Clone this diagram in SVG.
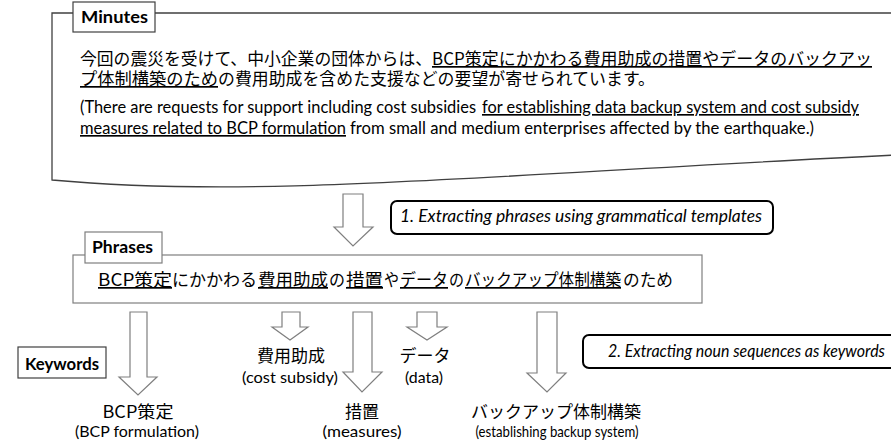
<svg xmlns="http://www.w3.org/2000/svg" width="891" height="445" viewBox="0 0 891 445">
<style>
.jp{font-family:"Noto Sans CJK JP","Noto Sans CJK SC",sans-serif;font-size:17px;fill:#000}
.en{font-family:Lato,"Open Sans",sans-serif;font-size:16.5px;fill:#000}
.kw{font-family:Lato,"Open Sans",sans-serif;font-size:16px;fill:#000}
.hd{font-family:Lato,"Open Sans",sans-serif;font-size:17px;font-weight:bold;fill:#000}
.it{font-family:Lato,"Open Sans",sans-serif;font-size:16.5px;font-style:italic;fill:#000}
.u{text-decoration:underline}
.lbl{fill:#fff;stroke:#404040;stroke-width:1.2}
.step{fill:#fff;stroke:#000;stroke-width:2}
.arr{fill:#fff;stroke:#7f7f7f;stroke-width:1.2}
.mid{text-anchor:middle}
</style>
<rect width="891" height="445" fill="#fff"/>

<g id="minutes">
  <path d="M52,180 V13 H896 V155 C480,175 260,199 52,180 Z" fill="#fff" stroke="#404040" stroke-width="1.3"/>
  <rect class="lbl" x="73" y="2" width="82" height="30"/>
  <text class="hd" x="81" y="23" textLength="67" lengthAdjust="spacingAndGlyphs">Minutes</text>
  <text class="jp" x="80" y="65" textLength="352" lengthAdjust="spacingAndGlyphs">今回の震災を受けて、中小企業の団体からは、</text>
  <text class="jp u" x="432" y="65" textLength="440" lengthAdjust="spacingAndGlyphs">BCP策定にかかわる費用助成の措置やデータのバックアッ</text>
  <text class="jp u" x="80" y="85" textLength="138" lengthAdjust="spacingAndGlyphs">プ体制構築のため</text>
  <text class="jp" x="218" y="85" textLength="437" lengthAdjust="spacingAndGlyphs">の費用助成を含めた支援などの要望が寄せられています。</text>
  <text class="en" x="80" y="113" textLength="396" lengthAdjust="spacingAndGlyphs">(There are requests for support including cost subsidies</text>
  <text class="en u" x="482" y="113" textLength="377" lengthAdjust="spacingAndGlyphs">for establishing data backup system and cost subsidy</text>
  <text class="en u" x="80" y="134" textLength="266" lengthAdjust="spacingAndGlyphs">measures related to BCP formulation</text>
  <text class="en" x="350" y="134" textLength="464" lengthAdjust="spacingAndGlyphs">from small and medium enterprises affected by the earthquake.)</text>
</g>

<g id="step1">
  <rect class="step" x="391" y="201" width="382" height="33" rx="6"/>
  <text class="it" x="400" y="222" textLength="362" lengthAdjust="spacingAndGlyphs">1. Extracting phrases using grammatical templates</text>
</g>

<g id="phrases">
  <rect x="73" y="255" width="629" height="48" fill="#fff" stroke="#7f7f7f" stroke-width="1.2"/>
  <rect x="85" y="232" width="77" height="31" fill="#fff" stroke="#7f7f7f" stroke-width="1.2"/>
  <text class="hd" x="92" y="253" textLength="61" lengthAdjust="spacingAndGlyphs">Phrases</text>
  <text class="jp u" x="98" y="286" textLength="74" lengthAdjust="spacingAndGlyphs">BCP策定</text>
  <text class="jp" x="172" y="286" textLength="85" lengthAdjust="spacingAndGlyphs">にかかわる</text>
  <text class="jp u" x="258" y="286" textLength="70" lengthAdjust="spacingAndGlyphs">費用助成</text>
  <text class="jp" x="329" y="286" textLength="16" lengthAdjust="spacingAndGlyphs">の</text>
  <text class="jp u" x="346" y="286" textLength="37" lengthAdjust="spacingAndGlyphs">措置</text>
  <text class="jp" x="384" y="286" textLength="15" lengthAdjust="spacingAndGlyphs">や</text>
  <text class="jp u" x="400" y="286" textLength="48" lengthAdjust="spacingAndGlyphs">データ</text>
  <text class="jp" x="449" y="286" textLength="15" lengthAdjust="spacingAndGlyphs">の</text>
  <text class="jp u" x="465" y="286" textLength="156" lengthAdjust="spacingAndGlyphs">バックアップ体制構築</text>
  <text class="jp" x="623" y="286" textLength="50" lengthAdjust="spacingAndGlyphs">のため</text>
</g>

<g id="keywords-label">
  <rect class="lbl" x="18" y="347" width="88" height="31"/>
  <text class="hd" x="25" y="370" textLength="74" lengthAdjust="spacingAndGlyphs">Keywords</text>
</g>

<g id="step2">
  <rect class="step" x="583" y="335" width="330" height="33" rx="6"/>
  <text class="it" x="608" y="357" textLength="277" lengthAdjust="spacingAndGlyphs">2. Extracting noun sequences as keywords</text>
</g>

<g id="kw-bcp">
  <text class="jp mid" x="138" y="418" textLength="71" lengthAdjust="spacingAndGlyphs">BCP策定</text>
  <text class="kw mid" x="137" y="437" textLength="124" lengthAdjust="spacingAndGlyphs">(BCP formulation)</text>
</g>
<g id="kw-cost">
  <text class="jp mid" x="291" y="362">費用助成</text>
  <text class="kw mid" x="290" y="383" textLength="96" lengthAdjust="spacingAndGlyphs">(cost subsidy)</text>
</g>
<g id="kw-measures">
  <text class="jp mid" x="362" y="418">措置</text>
  <text class="kw mid" x="362" y="437" textLength="79" lengthAdjust="spacingAndGlyphs">(measures)</text>
</g>
<g id="kw-data">
  <text class="jp mid" x="425" y="362">データ</text>
  <text class="kw mid" x="424" y="383" textLength="38" lengthAdjust="spacingAndGlyphs">(data)</text>
</g>
<g id="kw-backup">
  <text class="jp mid" x="556" y="418">バックアップ体制構築</text>
  <text class="kw mid" x="557" y="437" textLength="163" lengthAdjust="spacingAndGlyphs" style="font-size:15px">(establishing backup system)</text>
</g>

<g id="connectors">
  <path class="arr" d="M343,194 H363 V227 H373 L353,246 L334,227 H343 Z"/>
  <path class="arr" d="M130,312 H147 V377 H157 L138,395 L119,377 H130 Z"/>
  <path class="arr" d="M282,312 H300 V327 H308 L290,340 L272,327 H282 Z"/>
  <path class="arr" d="M353,312 H372 V372 H382 L362,392 L343,372 H353 Z"/>
  <path class="arr" d="M417,312 H437 V327 H447 L427,340 L407,327 H417 Z"/>
  <path class="arr" d="M537,312 H557 V373 H566 L547,392 L527,373 H537 Z"/>
</g>
</svg>
